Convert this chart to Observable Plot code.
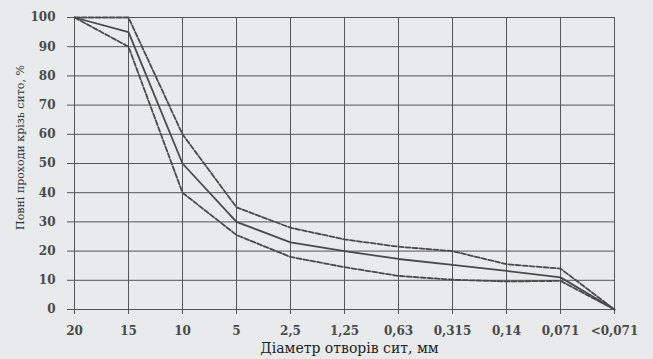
<!DOCTYPE html>
<html><head><meta charset="utf-8">
<script src="https://cdn.jsdelivr.net/npm/d3@7"></script>
<script src="https://cdn.jsdelivr.net/npm/@observablehq/plot@0.6"></script>
<style>
html,body{margin:0;padding:0;background:#e9eaec;}
svg{background:#e9eaec;}
</style></head><body>
<div id="chart"></div>
<script>
const sieves = ["20","15","10","5","2,5","1,25","0,63","0,315","0,14","0,071","<0,071"];
const upper  = [100,100,60,35,28,24,21.5,20,15.5,14,0];
const middle = [100,95,50,30,23,20,17.3,15.3,13.2,11,0];
const lower  = [100,90,40,25.5,18,14.5,11.5,10.2,9.6,9.8,0];
const yTicks = [0,10,20,30,40,50,60,70,80,90,100];

const rows = [];
[["upper",upper],["middle",middle],["lower",lower]].forEach(([s,v])=>{
  sieves.forEach((c,i)=>rows.push({series:s, sieve:c, value:v[i]}));
});
const font = "'DejaVu Serif', 'Liberation Serif', serif";
const plot = Plot.plot({
  width: 653, height: 359,
  marginLeft: 73, marginRight: 38, marginTop: 17, marginBottom: 50,
  style: {background: "#e9eaec", fontFamily: font, fontSize: "12px", color: "#333"},
  x: {type: "point", domain: sieves, padding: 0, label: null},
  y: {domain: [0,100], ticks: yTicks, label: null},
  marks: [
    Plot.ruleY(yTicks, {stroke: "#555", strokeWidth: 1}),
    Plot.ruleX(sieves, {stroke: "#555", strokeWidth: 1}),
    Plot.axisY({ticks: yTicks, tickSize: 6, tickPadding: 12, fontSize: 12, fontWeight: "bold", fill: "#4a4a4a", label: null, stroke: "#555"}),
    Plot.axisX({tickSize: 5, tickPadding: 12, fontSize: 12, fontWeight: "bold", fill: "#4a4a4a", label: null, stroke: "#555"}),
    Plot.text(["Повні проходи крізь сито, %"], {frameAnchor: "left", textAnchor: "middle", dx: -53, dy: -16, rotate: -90, fontSize: 11, fill: "#333"}),
    Plot.text(["Діаметр отворів сит, мм"], {frameAnchor: "bottom", dy: 43, dx: 5, fontSize: 14, fill: "#222"}),
    Plot.line(rows.filter(d=>d.series==="upper"), {x:"sieve", y:"value", stroke:"#4a4a4a", strokeWidth:1.8, strokeDasharray:"5,2"}),
    Plot.line(rows.filter(d=>d.series==="middle"), {x:"sieve", y:"value", stroke:"#4a4a4a", strokeWidth:1.8}),
    Plot.line(rows.filter(d=>d.series==="lower"), {x:"sieve", y:"value", stroke:"#4a4a4a", strokeWidth:1.8, strokeDasharray:"5,2"})
  ]
});
document.getElementById("chart").appendChild(plot);
</script>
</body></html>
